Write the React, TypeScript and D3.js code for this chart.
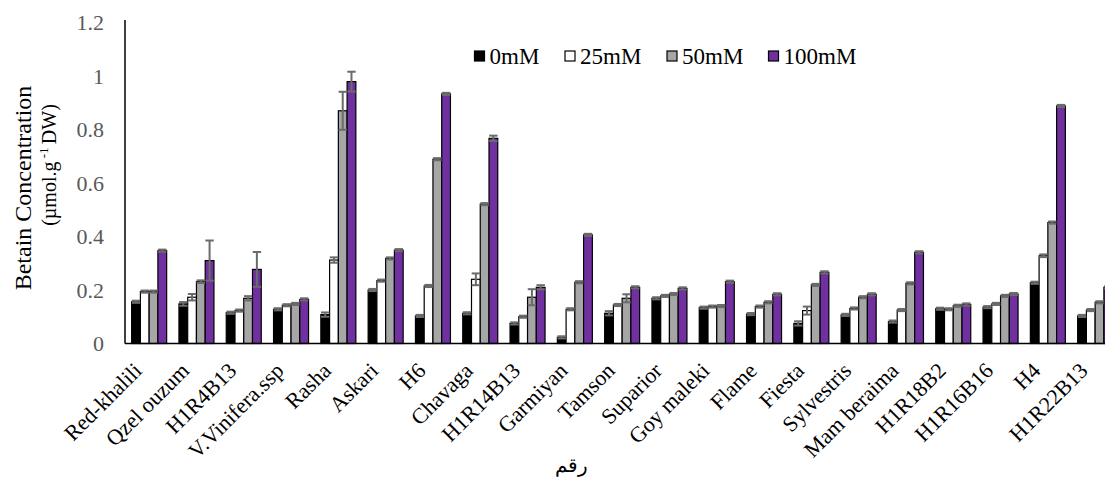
import React from "react";
import * as d3 from "d3";

// Cultivars on the x axis
const cultivars = [
  "Red-khalili", "Qzel ouzum", "H1R4B13", "V.Vinifera.ssp", "Rasha", "Askari", "H6",
  "Chavaga", "H1R14B13", "Garmiyan", "Tamson", "Suparior", "Goy maleki", "Flame",
  "Fiesta", "Sylvestris", "Mam beraima", "H1R18B2", "H1R16B16", "H4", "H1R22B13",
];

// NaCl treatments
const treatments = ["0mM", "25mM", "50mM", "100mM"];
const treatmentColors = ["#000000", "#ffffff", "#a6a6a6", "#7030a0"];

// Betaine concentration (µmol.g-1 DW) per treatment
const values0 = [0.156, 0.148, 0.115, 0.128, 0.108, 0.2, 0.103, 0.113, 0.075, 0.023, 0.113,
  0.169, 0.134, 0.11, 0.075, 0.107, 0.082, 0.13, 0.136, 0.227, 0.103];
const values25 = [0.194, 0.173, 0.123, 0.143, 0.312, 0.235, 0.215, 0.24, 0.1, 0.128, 0.144,
  0.178, 0.138, 0.138, 0.123, 0.131, 0.125, 0.128, 0.148, 0.328, 0.125];
const values50 = [0.194, 0.231, 0.169, 0.148, 0.87, 0.318, 0.689, 0.521, 0.173, 0.229, 0.169,
  0.185, 0.14, 0.154, 0.219, 0.173, 0.225, 0.141, 0.178, 0.452, 0.154];
const values100 = [0.347, 0.31, 0.277, 0.165, 0.979, 0.349, 0.933, 0.767, 0.21, 0.406, 0.21,
  0.206, 0.231, 0.184, 0.266, 0.184, 0.341, 0.146, 0.185, 0.888, 0.21];

// Standard errors
const err0 = [0.004, 0.007, 0.004, 0.004, 0.008, 0.004, 0.004, 0.004, 0.004, 0.004, 0.008,
  0.004, 0.004, 0.004, 0.008, 0.004, 0.004, 0.004, 0.004, 0.004, 0.004];
const err25 = [0.004, 0.012, 0.004, 0.004, 0.01, 0.004, 0.004, 0.022, 0.004, 0.004, 0.004,
  0.004, 0.004, 0.004, 0.015, 0.004, 0.004, 0.004, 0.004, 0.005, 0.004];
const err50 = [0.004, 0.005, 0.008, 0.004, 0.071, 0.004, 0.004, 0.004, 0.03, 0.004, 0.015,
  0.004, 0.004, 0.004, 0.004, 0.004, 0.004, 0.004, 0.004, 0.004, 0.004];
const err100 = [0.004, 0.075, 0.065, 0.004, 0.037, 0.004, 0.004, 0.01, 0.008, 0.004, 0.004,
  0.004, 0.004, 0.004, 0.004, 0.004, 0.004, 0.004, 0.004, 0.004, 0.004];

const yTicks = [0, 0.2, 0.4, 0.6, 0.8, 1, 1.2];

const W = 1105;
const H = 484;
const serif = { fontFamily: "Liberation Serif" };

export default function App() {
  const series = [values0, values25, values50, values100];
  const errors = [err0, err25, err50, err100];

  const x0 = 125.5;
  const step = 47.3;
  const x = d3
    .scaleBand<string>()
    .domain(cultivars)
    .range([x0, x0 + step * cultivars.length])
    .paddingInner(0.26)
    .paddingOuter(0.13);
  const xs = d3.scaleBand<string>().domain(treatments).range([0, x.bandwidth()]);
  const y = d3.scaleLinear().domain([0, 1.2]).range([343.5, 22.5]);

  const bars: React.ReactNode[] = [];
  const errs: React.ReactNode[] = [];
  cultivars.forEach((c, i) => {
    treatments.forEach((t, s) => {
      const v = series[s][i];
      const e = errors[s][i];
      const bx = (x(c) as number) + (xs(t) as number);
      const bw = xs.bandwidth();
      bars.push(
        <rect
          key={`b-${i}-${s}`}
          x={bx}
          y={y(v)}
          width={bw}
          height={y(0) - y(v)}
          fill={treatmentColors[s]}
          stroke="#000"
          strokeWidth={1.2}
        />
      );
      const cx = bx + bw / 2;
      const capHalf = 4.2;
      errs.push(
        <g key={`e-${i}-${s}`} stroke="#6b6b6b" strokeWidth={2}>
          <line x1={cx} x2={cx} y1={y(v + e)} y2={y(v - e)} />
          <line x1={cx - capHalf} x2={cx + capHalf} y1={y(v + e)} y2={y(v + e)} />
          <line x1={cx - capHalf} x2={cx + capHalf} y1={y(v - e)} y2={y(v - e)} />
        </g>
      );
    });
  });

  const legendX = [474.5, 565, 667, 768.5];

  return (
    <svg
      width={W}
      height={H}
      style={{ position: "absolute", left: 0, top: 0, background: "#fff" }}
    >
      <rect x={0} y={0} width={W} height={H} fill="#fff" />

      {/* y tick labels */}
      {yTicks.map((t) => (
        <text
          key={t}
          x={104}
          y={y(t)}
          dy="0.35em"
          textAnchor="end"
          fontSize={22}
          fill="#595959"
          style={serif}
        >
          {d3.format("~g")(t)}
        </text>
      ))}

      {/* y axis title */}
      <text
        transform={`translate(31,188) rotate(-90)`}
        textAnchor="middle"
        fontSize={24}
        fill="#000"
        style={serif}
      >
        Betain Concentration
      </text>
      <text
        transform={`translate(56,165) rotate(-90)`}
        textAnchor="middle"
        fontSize={20}
        fill="#000"
        style={serif}
      >
        (µmol.g
        <tspan fontSize={13} dy={-8}> -1 </tspan>
        <tspan dy={8}>DW)</tspan>
      </text>

      {bars}
      {errs}

      {/* axes */}
      <line x1={125} x2={125} y1={20} y2={y(0)} stroke="#000" strokeWidth={1.5} />
      <line x1={125} x2={W} y1={y(0)} y2={y(0)} stroke="#000" strokeWidth={1.5} />

      {/* category labels */}
      {cultivars.map((c) => {
        const cx = (x(c) as number) + x.bandwidth() / 2;
        return (
          <text
            key={c}
            transform={`translate(${cx - 6},372) rotate(-45)`}
            textAnchor="end"
            fontSize={22}
            fill="#000"
            style={serif}
          >
            {c}
          </text>
        );
      })}

      {/* x axis title */}
      <text x={571} y={472} textAnchor="middle" fontSize={20} fill="#000" style={serif}>
        رقم
      </text>

      {/* legend */}
      {treatments.map((t, s) => (
        <g key={t}>
          <rect
            x={legendX[s]}
            y={51}
            width={10}
            height={10}
            fill={treatmentColors[s]}
            stroke="#000"
            strokeWidth={1.2}
          />
          <text x={legendX[s] + 15} y={63.5} fontSize={23} fill="#000" style={serif}>
            {t}
          </text>
        </g>
      ))}
    </svg>
  );
}
